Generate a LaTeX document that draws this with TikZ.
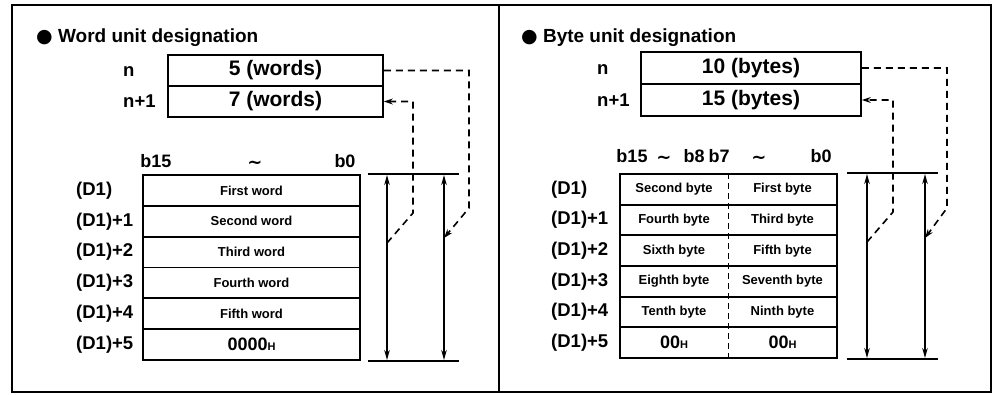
\documentclass[tikz,border=0pt]{standalone}
\usepackage{fontspec}
\setmainfont{Liberation Sans}
\newfontfamily\symfont{DejaVu Sans}
\usetikzlibrary{arrows.meta}

\newcommand\hexval[1]{{\fontsize{18}{18}\selectfont #1{\fontsize{11}{11}\selectfont H}}}
\newcommand\tld{{\symfont ∼}}

\tikzset{
  title/.style={anchor=base west, inner sep=0pt, font=\bfseries\fontsize{19}{19}\selectfont},
  countbox/.style={draw, line width=1.8pt, minimum height=31pt, inner sep=0pt, font=\bfseries\fontsize{21}{21}\selectfont},
  cellbox/.style={draw, line width=1.8pt, minimum width=217pt, inner sep=0pt, font=\bfseries\fontsize{13}{13}\selectfont},
  celltext/.style={inner sep=0pt, font=\bfseries\fontsize{13}{13}\selectfont},
  lbl/.style={anchor=west, inner sep=0pt, font=\bfseries\fontsize{18.5}{18.5}\selectfont},
  bit/.style={anchor=base, inner sep=0pt, font=\bfseries\fontsize{18}{18}\selectfont},
  dashline/.style={line width=1.6pt, dash pattern=on 7pt off 5pt, -{Stealth[length=9pt,width=6pt]}},
  divline/.style={line width=1.5pt, dash pattern=on 6pt off 4pt},
  rng/.style={line width=1.4pt, {Stealth[length=10pt,width=5.5pt]}-{Stealth[length=10pt,width=5.5pt]}},
  limit/.style={line width=1.8pt},
}

\begin{document}
\begin{tikzpicture}[x=1pt, y=-1pt]
    \useasboundingbox (0,0) rectangle (994,394);
    \draw[line width=2.4pt] (12,5) rectangle (991,392);
    \draw[line width=2pt] (499,5) -- (499,392);

    % word unit designation
    \node[title] (wtitle) at (36,42) {{\symfont ●} Word unit designation};

    \node[countbox, minimum width=215pt] (wn) at (275.5,70.5) {5 (words)};
    \node[countbox, minimum width=215pt] (wn1) at (275.5,101.5) {7 (words)};
    \node[lbl] (wnl) at (123,71.5) {n};
    \node[lbl] (wn1l) at (123,101.5) {n+1};

    \node[bit] (wb15) at (156,167) {b15};
    \node[bit] (wsim) at (255,168) {\tld};
    \node[bit] (wb0) at (345,167) {b0};

    \foreach \t [count=\i from 0] in {First word, Second word, Third word, Fourth word, Fifth word, \hexval{0000}} {
        \node[cellbox, minimum height=30.83pt] (w\i) at (251.5,{190.4+30.83*\i}) {\t};
        \node[lbl] (wd\i) at (76,{190.4+30.83*\i}) {(D1)\ifnum\i>0 +\i\fi};
    }

    \draw[limit] ([xshift=7pt]w0.north east) -- ++(91,0);
    \draw[limit] ([xshift=7pt]w5.south east) -- ++(91,0);
    \coordinate (wr1t) at (387,175);
    \coordinate (wr1b) at (387,360);
    \coordinate (wr2t) at (444,175);
    \coordinate (wr2b) at (444,360);
    \draw[rng] (wr1t) -- (wr1b);
    \draw[rng] (wr2t) -- (wr2b);

    \coordinate (wk1) at (469,208);
    \coordinate (wh1) at (444,238);
    \coordinate (wk2) at (413,213);
    \coordinate (wh2) at (387,243);
    \draw[dashline] (wn.east) -| (wk1) -- (wh1);
    \draw[dashline] (wh2) -- (wk2) |- (wn1.east);

    % byte unit designation
    \node[title] (btitle) at (521,42) {{\symfont ●} Byte unit designation};

    \node[countbox, minimum width=220pt, minimum height=32pt] (bn) at (751,68) {10 (bytes)};
    \node[countbox, minimum width=220pt, minimum height=32pt] (bn1) at (751,100) {15 (bytes)};
    \node[lbl] (bnl) at (597,70) {n};
    \node[lbl] (bn1l) at (597,100) {n+1};

    \node[bit] (bb15) at (632,162) {b15};
    \node[bit] (bsim1) at (664,163) {\tld};
    \node[bit] (bb8) at (694,162) {b8};
    \node[bit] (bb7) at (719,162) {b7};
    \node[bit] (bsim2) at (759,163) {\tld};
    \node[bit] (bb0) at (821,162) {b0};

    \foreach \hi/\lo [count=\i from 0] in {Second byte/First byte, Fourth byte/Third byte, Sixth byte/Fifth byte, Eighth byte/Seventh byte, Tenth byte/Ninth byte, \hexval{00}/\hexval{00}} {
        \node[cellbox, minimum height=30.67pt] (b\i) at (728.5,{189.3+30.67*\i}) {};
        \node[celltext] (bh\i) at (674,{189.3+30.67*\i}) {\hi};
        \node[celltext] (bl\i) at (782.5,{189.3+30.67*\i}) {\lo};
        \node[lbl] (bd\i) at (551,{189.3+30.67*\i}) {(D1)\ifnum\i>0 +\i\fi};
    }
    \draw[divline] (b0.north) -- (b5.south);

    \draw[limit] ([xshift=9pt]b0.north east) -- ++(91,0);
    \draw[limit] ([xshift=9pt]b5.south east) -- ++(91,0);
    \coordinate (br1t) at (867,174);
    \coordinate (br1b) at (867,358);
    \coordinate (br2t) at (925,174);
    \coordinate (br2b) at (925,358);
    \draw[rng] (br1t) -- (br1b);
    \draw[rng] (br2t) -- (br2b);

    \coordinate (bk1) at (947,208);
    \coordinate (bh1) at (925,238);
    \coordinate (bk2) at (893,212);
    \coordinate (bh2) at (867,242);
    \draw[dashline] (bn.east) -| (bk1) -- (bh1);
    \draw[dashline] (bh2) -- (bk2) |- (bn1.east);
\end{tikzpicture}
\end{document}
